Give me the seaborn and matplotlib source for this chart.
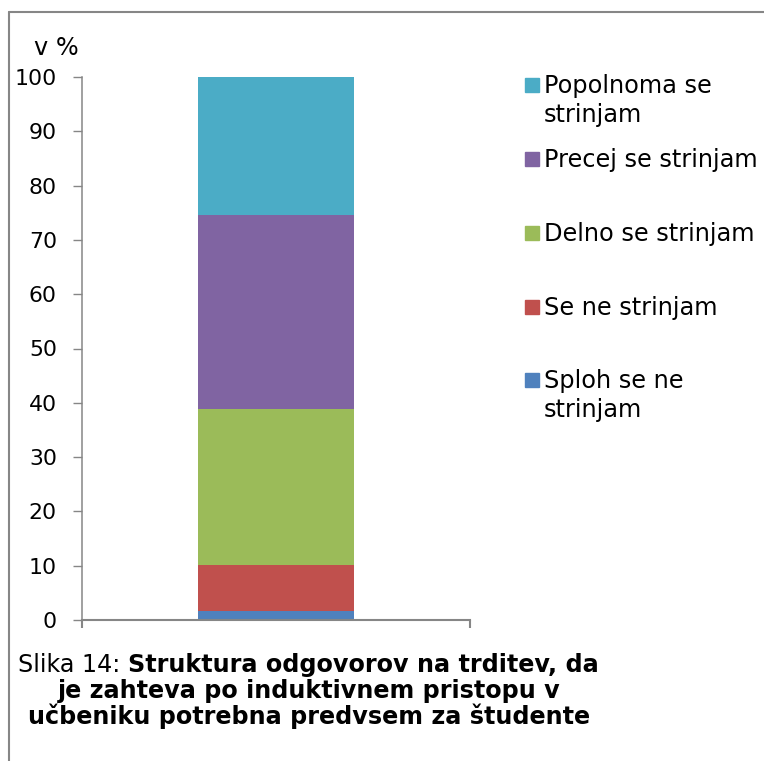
import numpy as np
import pandas as pd
import matplotlib
matplotlib.use("Agg")
import matplotlib.pyplot as plt
from matplotlib.patches import Rectangle
from matplotlib.lines import Line2D
import seaborn as sns

# ---- data ----
categories = ["Sploh se ne strinjam", "Se ne strinjam", "Delno se strinjam",
              "Precej se strinjam", "Popolnoma se strinjam"]
legend_labels = ["Sploh se ne\nstrinjam", "Se ne strinjam", "Delno se strinjam",
                 "Precej se strinjam", "Popolnoma se\nstrinjam"]
values = [1.7, 8.4, 28.8, 35.7, 25.4]
colors = ["#4F81BD", "#C0504D", "#9BBB59", "#8064A2", "#4BACC6"]
yticks = [0, 10, 20, 30, 40, 50, 60, 70, 80, 90, 100]
ylabel = "v %"
caption_plain = "Slika 14: "
caption_lines = ["Struktura odgovorov na trditev, da",
                 "je zahteva po induktivnem pristopu v",
                 "učbeniku potrebna predvsem za študente"]

sns.set_theme(style="white")
plt.rcParams['font.family'] = ['DejaVu Sans']
for k in ["text.color", "axes.labelcolor", "xtick.color", "ytick.color"]:
    plt.rcParams[k] = "black"

W, H = 764, 761
fig = plt.figure(figsize=(W / 100, H / 100), dpi=100)

def fx(x):
    return x / W

def fy(y):
    return 1 - y / H

ax = fig.add_axes([fx(82), fy(620), fx(470) - fx(82), fy(77) - fy(620)])

df = pd.DataFrame({"grp": [""] * len(values), "cat": categories, "val": values})
df["cum"] = np.cumsum(df["val"])

# stacked bar: draw cumulative totals from top down
for i in range(len(df) - 1, -1, -1):
    sns.barplot(x=[df["grp"][i]], y=[df["cum"][i]], color=colors[i],
                saturation=1, width=0.404, ax=ax, edgecolor="none",
                linewidth=0)

ax.set_xlim(-0.5, 0.5)
ax.set_ylim(0, 100)
ax.set_yticks(yticks)
ax.set_yticklabels([str(t) for t in yticks], fontsize=15.8, color="black")
ax.set_xticks([-0.5, 0.5])
ax.set_xticklabels(["", ""])
ax.set_xlabel("")
ax.set_ylabel("")
spine_col = "#868686"
for s in ["top", "right"]:
    ax.spines[s].set_visible(False)
ax.spines["left"].set_color(spine_col)
ax.spines["bottom"].set_color(spine_col)
ax.spines["left"].set_linewidth(1.1)
ax.spines["bottom"].set_linewidth(1.5)
ax.tick_params(axis="y", direction="out", length=6.5, width=1.0, color=spine_col,
               labelcolor="black", pad=11.5, left=True)
ax.tick_params(axis="x", direction="out", length=6, width=1.5, color=spine_col,
               bottom=True)

# y unit label
fig.text(fx(56.5), fy(55), ylabel, ha="center", va="baseline", fontsize=17.3)

# legend (top entry first), first lines evenly spaced
leg_fs = 17.3
order = list(range(len(categories) - 1, -1, -1))
base0 = 93.3
step = 73.75
line_h = 28.5
for k, i in enumerate(order):
    b = base0 + step * k
    fig.patches.append(Rectangle((fx(525), fy(b - 1)), fx(539) - fx(525),
                                 fy(b - 15) - fy(b - 1), color=colors[i],
                                 transform=fig.transFigure, figure=fig))
    for j, line in enumerate(legend_labels[i].split("\n")):
        fig.text(fx(544), fy(b + line_h * j), line, ha="left", va="baseline",
                 fontsize=leg_fs)

# caption
cap_fs = 17.2
cx = 309
t1 = fig.text(fx(18), fy(672), caption_plain, ha="left", va="baseline", fontsize=cap_fs)
fig.canvas.draw()
bb = t1.get_window_extent()
fig.text(bb.x1 / fig.dpi / fig.get_figwidth(), fy(672), caption_lines[0],
         ha="left", va="baseline", fontsize=cap_fs, fontweight="bold")
fig.text(fx(cx), fy(698), caption_lines[1], ha="center", va="baseline",
         fontsize=cap_fs, fontweight="bold")
fig.text(fx(cx), fy(724), caption_lines[2], ha="center", va="baseline",
         fontsize=cap_fs, fontweight="bold")

# frame border (left and top)
fig.lines.append(Line2D([fx(9), fx(9)], [fy(761), fy(12)], color=spine_col,
                        linewidth=1.5, transform=fig.transFigure))
fig.lines.append(Line2D([fx(9), fx(764)], [fy(12), fy(12)], color=spine_col,
                        linewidth=1.5, transform=fig.transFigure))

fig.savefig("out.png", dpi=100, facecolor="white")
